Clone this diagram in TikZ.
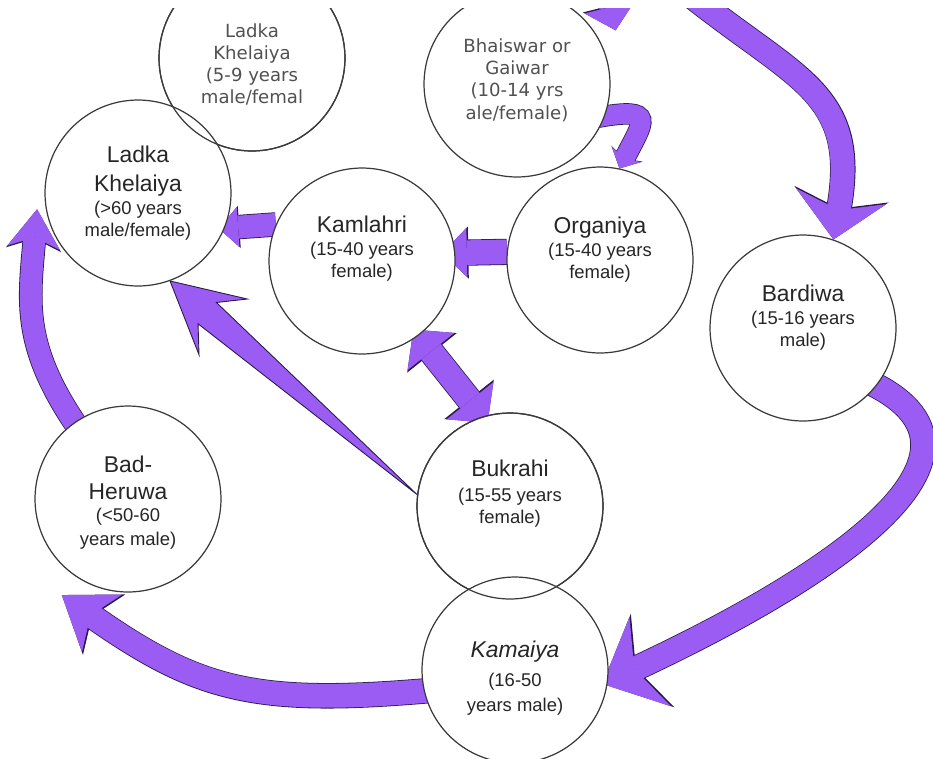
\documentclass[tikz,border=0pt]{standalone}
\usepackage{fontspec}
\setmainfont{Liberation Sans}
\newfontfamily\verdana{DejaVu Sans}
\usetikzlibrary{arrows.meta,calc,backgrounds}
\definecolor{arrowfill}{HTML}{9B5CF4}
\definecolor{arrowedge}{HTML}{2A1A48}
\definecolor{ringgray}{HTML}{3A3A3A}
\definecolor{inkgray}{HTML}{262626}
\newcommand{\caste}[1]{{\fontsize{13}{14}\selectfont #1}}
\newcommand{\lines}[2][-2.6pt]{\raisebox{#1}[0pt][0pt]{\begin{tabular}{@{}c@{}}#2\end{tabular}}}

\begin{document}
\begin{tikzpicture}[x=0.02cm, y=0.02cm,
    who/.style={circle, draw=ringgray, line width=0.7pt, fill=white,
                minimum size=3.72cm, inner sep=0pt,
                text=inkgray, font=\fontsize{10.5}{12.5}\selectfont},
    young/.style={who, text=inkgray!80,
                  font=\verdana\fontsize{10.3}{12.6}\selectfont},
    bar/.style n args={3}{draw=arrowfill, line width=#1,
        -{Triangle[length=#2, width=#3, line width=0pt]},
        preaction={draw=arrowedge, line width=#1+0.9pt,
            -{Triangle[length=#2, width=#3, line width=0pt, scale=1.06]}}},
    twinbar/.style n args={3}{draw=arrowfill, line width=#1,
        {Triangle[length=#2, width=#3, line width=0pt]}-{Triangle[length=#2, width=#3, line width=0pt]},
        preaction={draw=arrowedge, line width=#1+0.9pt,
            {Triangle[length=#2, width=#3, line width=0pt, scale=1.06]}-{Triangle[length=#2, width=#3, line width=0pt, scale=1.06]}}},
    swoosh/.style n args={4}{draw=arrowfill, line width=#1,
        -{Stealth[length=#2, width=#3, inset=#4, line width=0pt]},
        preaction={draw=arrowedge, line width=#1+0.9pt,
            -{Stealth[length=#2, width=#3, inset=#4, line width=0pt, scale=1.05]}}},
    sliver/.style={fill=arrowfill, draw=arrowedge, line width=0.5pt},
]
\useasboundingbox (0,0) rectangle (933,-758);
\clip (0,-8) rectangle (933,-758);

\node[young] (lkchild) at (252,-58) {\lines[-7pt]{Ladka\\Khelaiya\\(5-9 years\\male/femal}};
\node[young] (bhaiswar) at (517,-84) {\lines[-1pt]{Bhaiswar or\\Gaiwar\\(10-14 yrs\\ale/female)}};
\node[who] (lkold) at (138,-193)
    {\lines[-3.6pt]{\caste{Ladka}\\[3pt]\caste{Khelaiya}\\[0.5pt](>60 years\\male/female)}};
\node[who] (kamlahri) at (362,-261) {\lines[3.6pt]{\caste{Kamlahri}\\[1pt](15-40 years\\female)}};
\node[who] (organiya) at (600,-260) {\lines[2.4pt]{\caste{Organiya}\\[1pt](15-40 years\\female)}};
\node[who] (bardiwa) at (803,-328) {\lines[2.4pt]{\caste{Bardiwa}\\[1pt](15-16 years\\male)}};
\node[who] (bukrahi) at (510,-506) {\lines[3.4pt]{\caste{Bukrahi}\\[1.5pt](15-55 years\\female)}};
\node[who] (kamaiya) at (515,-670)
    {\lines[-8.3pt]{\caste{\textit{Kamaiya}}\\[3.5pt](16-50\\[2pt]years male)}};
\node[who] (badheruwa) at (128,-499)
    {\lines[-5.4pt]{\caste{Bad-}\\[3pt]\caste{Heruwa}\\(<50-60\\[1pt]years male)}};

\foreach \n in {lkchild, bukrahi}
    \draw[ringgray, line width=0.7pt] (\n.center) circle[radius=1.86cm];

\begin{scope}[on background layer]
\clip (0,-8) rectangle (933,-758);
\coordinate (feed) at (603,20);
\coordinate (entry) at (672,20);
\draw[bar={12pt}{13.6pt}{29.5pt}] (feed) -- ([xshift=12.5pt]bhaiswar.35);
\draw[swoosh={13.6pt}{25pt}{52pt}{8pt}] (entry) to[out=-40, in=80, looseness=1.3] (bardiwa.71);
\draw[swoosh={11.3pt}{9pt}{19pt}{3pt}, shorten <=-4pt]
    (bhaiswar.-20) to[out=10, in=63, looseness=2.5] (organiya.78);
\draw[bar={14pt}{14pt}{28pt}, shorten >=-7.4pt] (organiya.175) -- (kamlahri.5);
\draw[bar={13pt}{11pt}{22.7pt}, shorten >=-3.4pt] (kamlahri.157) -- (lkold.-22);
\draw[twinbar={14pt}{16pt}{34pt}, shorten <=-4.5pt, shorten >=-4.5pt]
    (kamlahri.-53) -- (bukrahi.107);
\filldraw[sliver] (bukrahi.173)
    -- ($(lkold.-70)!28pt!(bukrahi.173)!8pt!90:(lkold.-70)$)
    -- ($(lkold.-70)!40pt!(bukrahi.173)!21pt!90:(lkold.-70)$)
    -- (lkold.-70)
    -- ($(lkold.-70)!40pt!(bukrahi.173)!21pt!-90:(lkold.-70)$)
    -- ($(lkold.-70)!28pt!(bukrahi.173)!8pt!-90:(lkold.-70)$)
    -- cycle;
\draw[swoosh={13.6pt}{30pt}{56pt}{10pt}, shorten >=-3.4pt, shorten <=-6pt]
    (bardiwa.-38) to[out=-25, in=25, looseness=1.15] (kamaiya.-7);
\draw[swoosh={13.6pt}{28pt}{40pt}{8pt}, shorten <=-6pt]
    (kamaiya.193) to[out=185, in=-35, looseness=1.15] ([yshift=-17pt]badheruwa.south west);
\draw[swoosh={12.5pt}{22pt}{30pt}{6pt}, shorten <=-6pt]
    (badheruwa.125) to[out=125, in=-95, looseness=1.1] ([xshift=-5pt]lkold.190);
\end{scope}
\end{tikzpicture}
\end{document}
